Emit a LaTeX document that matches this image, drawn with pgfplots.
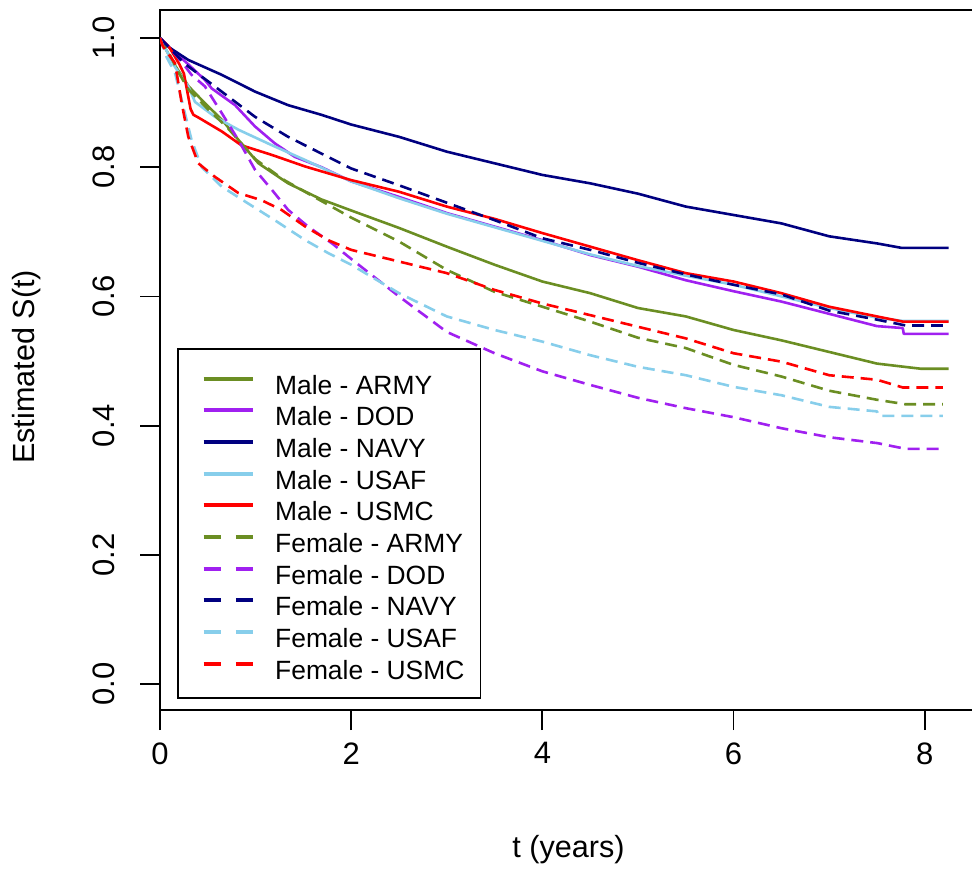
\documentclass[border=0pt]{standalone}
\usepackage{fontspec}
\setmainfont{Liberation Sans}
\usepackage{pgfplots}
\pgfplotsset{compat=1.18}

\definecolor{armyC}{HTML}{6B8E23}
\definecolor{dodC}{HTML}{A020F0}
\definecolor{navyC}{HTML}{000080}
\definecolor{usafC}{HTML}{87CEEB}
\definecolor{usmcC}{HTML}{FF0000}

\pgfplotsset{
  km/.style={line width=1.3pt, line join=round, forget plot},
  fem/.style={dash pattern=on 6pt off 3.5pt},
  legMale/.style={line width=2pt},
  legFem/.style={line width=2pt, dash pattern=on 8.5pt off 7.6pt},
}

% Kaplan-Meier estimates (t in years, S(t))
\begin{document}
\begin{tikzpicture}
\begin{axis}[
  scale only axis,
  width=408pt, height=350pt,
  at={(80pt,79.5pt)}, anchor=south west,
  xmin=0, xmax=8.536, ymin=-0.0402, ymax=1.0433,
  axis line style={line width=0.9pt, black},
  xtick={0,2,4,6,8}, xticklabels={0,2,4,6,8},
  ytick={0,0.2,0.4,0.6,0.8,1}, yticklabels={0.0,0.2,0.4,0.6,0.8,1.0},
  xtick pos=left, ytick pos=left,
  tick align=outside, major tick length=10pt,
  tick style={line width=0.9pt, black},
  tick label style={font=\fontsize{15.5}{18}\selectfont},
  xticklabel style={anchor=north, inner sep=0pt},
  yticklabel style={rotate=90, anchor=south, inner sep=0pt},
  xticklabel shift=6pt, yticklabel shift=12.5pt,
  xlabel={t (years)}, ylabel={Estimated S(t)},
  label style={font=\fontsize{15.3}{18}\selectfont},
  xlabel style={at={(axis description cs:0.5006,-0.2114)}, anchor=base, inner sep=0pt},
  ylabel style={at={(axis description cs:-0.1532,0.49)}, anchor=base, inner sep=0pt},
  legend style={at={(axis description cs:0.0212,0.5167)}, anchor=north west,
    draw=black, line width=0.9pt, fill=white,
    inner xsep=8pt, inner ysep=8pt, row sep=0pt,
    font=\fontsize{13.2}{15}\selectfont,
    nodes={inner sep=0pt, text height=14.5pt, text depth=1.33pt},
    /tikz/every odd column/.append style={column sep=10.2pt}},
  legend cell align=left,
  legend image code/.code={\path (0pt,1.2pt); \draw[#1] (3.7pt,1.2pt) -- (28.3pt,1.2pt);},
]
% Male - ARMY
\addplot[km, armyC] coordinates {
(0,1.000) (0.12,0.966) (0.30,0.925) (0.47,0.899) (0.65,0.873) (0.85,0.837)
(1.03,0.806) (1.34,0.775) (1.69,0.750) (2.00,0.733) (2.50,0.706) (3.00,0.677)
(3.50,0.649) (4.00,0.623) (4.50,0.605) (5.00,0.582) (5.50,0.569) (6.00,0.548)
(6.50,0.532) (7.00,0.514) (7.50,0.496) (7.96,0.488) (8.25,0.488)};
% Male - DOD
\addplot[km, dodC] coordinates {
(0,1.000) (0.10,0.985) (0.29,0.960) (0.47,0.935) (0.54,0.922) (0.785,0.896)
(0.994,0.863) (1.20,0.837) (1.41,0.816) (1.69,0.800) (2.00,0.778) (2.50,0.754)
(3.00,0.729) (3.50,0.708) (4.00,0.687) (4.50,0.664) (5.00,0.646) (5.50,0.625)
(6.00,0.608) (6.50,0.592) (7.00,0.573) (7.50,0.554) (7.77,0.551) (7.78,0.542)
(8.25,0.542)};
% Male - NAVY
\addplot[km, navyC] coordinates {
(0,1.000) (0.10,0.985) (0.296,0.966) (0.645,0.943) (0.994,0.917) (1.34,0.896)
(1.69,0.881) (2.00,0.866) (2.50,0.847) (3.00,0.824) (3.50,0.806) (4.00,0.788)
(4.50,0.775) (5.00,0.759) (5.50,0.739) (6.00,0.726) (6.50,0.713) (7.00,0.693)
(7.50,0.682) (7.76,0.675) (8.25,0.675)};
% Male - USAF
\addplot[km, usafC] coordinates {
(0,1.000) (0.157,0.955) (0.296,0.925) (0.366,0.901) (0.575,0.878) (0.82,0.858)
(1.17,0.834) (1.52,0.811) (2.00,0.778) (2.50,0.752) (3.00,0.728) (3.50,0.707)
(4.00,0.686) (4.50,0.665) (5.00,0.647) (5.50,0.632) (6.00,0.618) (6.50,0.600)
(7.00,0.582) (7.50,0.567) (7.77,0.562) (8.25,0.562)};
% Male - USMC
\addplot[km, usmcC] coordinates {
(0,1.000) (0.10,0.985) (0.20,0.960) (0.25,0.945) (0.32,0.890) (0.35,0.881)
(0.40,0.877) (0.65,0.855) (0.85,0.834) (1.17,0.819) (1.52,0.801) (2.00,0.780)
(2.50,0.762) (3.00,0.739) (3.50,0.720) (4.00,0.698) (4.50,0.677) (5.00,0.656)
(5.50,0.636) (6.00,0.623) (6.50,0.605) (7.00,0.584) (7.50,0.569) (7.77,0.561)
(8.25,0.561)};
% Female - ARMY
\addplot[km, fem, armyC] coordinates {
(0,1.000) (0.10,0.975) (0.20,0.945) (0.30,0.920) (0.50,0.890) (0.70,0.862)
(1.00,0.812) (1.30,0.780) (1.60,0.755) (2.00,0.722) (2.50,0.685) (3.00,0.641)
(3.50,0.607) (4.00,0.584) (4.50,0.561) (5.00,0.536) (5.50,0.520) (6.00,0.494)
(6.50,0.476) (7.00,0.454) (7.50,0.440) (7.80,0.433) (8.19,0.433)};
% Female - DOD
\addplot[km, fem, dodC] coordinates {
(0,1.000) (0.19,0.970) (0.33,0.943) (0.47,0.925) (0.645,0.884) (0.82,0.842)
(0.994,0.796) (1.17,0.765) (1.34,0.734) (1.55,0.708) (1.80,0.682) (2.00,0.658)
(2.50,0.600) (3.00,0.545) (3.50,0.512) (4.00,0.484) (4.50,0.463) (5.00,0.443)
(5.50,0.427) (6.00,0.413) (6.50,0.396) (7.00,0.382) (7.50,0.373) (7.80,0.364)
(8.19,0.364)};
% Female - NAVY
\addplot[km, fem, navyC] coordinates {
(0,1.000) (0.26,0.960) (0.645,0.917) (0.994,0.878) (1.34,0.847) (1.69,0.821)
(2.00,0.798) (2.50,0.772) (3.00,0.745) (3.50,0.718) (4.00,0.690) (4.50,0.672)
(5.00,0.652) (5.50,0.634) (6.00,0.618) (6.50,0.603) (7.00,0.578) (7.50,0.564)
(7.80,0.555) (8.19,0.555)};
% Female - USAF
\addplot[km, fem, usafC] coordinates {
(0,1.000) (0.07,0.970) (0.157,0.946) (0.26,0.884) (0.33,0.842) (0.436,0.800)
(0.645,0.770) (0.92,0.744) (1.20,0.718) (1.52,0.687) (1.76,0.667) (2.00,0.649)
(2.50,0.605) (3.00,0.569) (3.50,0.548) (4.00,0.530) (4.50,0.509) (5.00,0.491)
(5.50,0.478) (6.00,0.460) (6.50,0.447) (7.00,0.429) (7.50,0.422) (7.52,0.415)
(8.19,0.415)};
% Female - USMC
\addplot[km, fem, usmcC] coordinates {
(0,1.000) (0.03,0.987) (0.157,0.961) (0.227,0.899) (0.296,0.847) (0.40,0.806)
(0.575,0.785) (0.82,0.760) (1.06,0.749) (1.27,0.734) (1.52,0.708) (1.76,0.687)
(2.00,0.672) (2.50,0.654) (3.00,0.636) (3.50,0.610) (4.00,0.589) (4.50,0.571)
(5.00,0.553) (5.50,0.535) (6.00,0.512) (6.50,0.499) (7.00,0.478) (7.50,0.471)
(7.77,0.459) (8.19,0.459)};

\addlegendimage{legMale, armyC}\addlegendentry{Male - ARMY}
\addlegendimage{legMale, dodC}\addlegendentry{Male - DOD}
\addlegendimage{legMale, navyC}\addlegendentry{Male - NAVY}
\addlegendimage{legMale, usafC}\addlegendentry{Male - USAF}
\addlegendimage{legMale, usmcC}\addlegendentry{Male - USMC}
\addlegendimage{legFem, armyC}\addlegendentry{Female - ARMY}
\addlegendimage{legFem, dodC}\addlegendentry{Female - DOD}
\addlegendimage{legFem, navyC}\addlegendentry{Female - NAVY}
\addlegendimage{legFem, usafC}\addlegendentry{Female - USAF}
\addlegendimage{legFem, usmcC}\addlegendentry{Female - USMC}
\end{axis}
\pgfresetboundingbox
\path (0,0) rectangle (486pt,434.5pt);
\end{tikzpicture}
\end{document}
